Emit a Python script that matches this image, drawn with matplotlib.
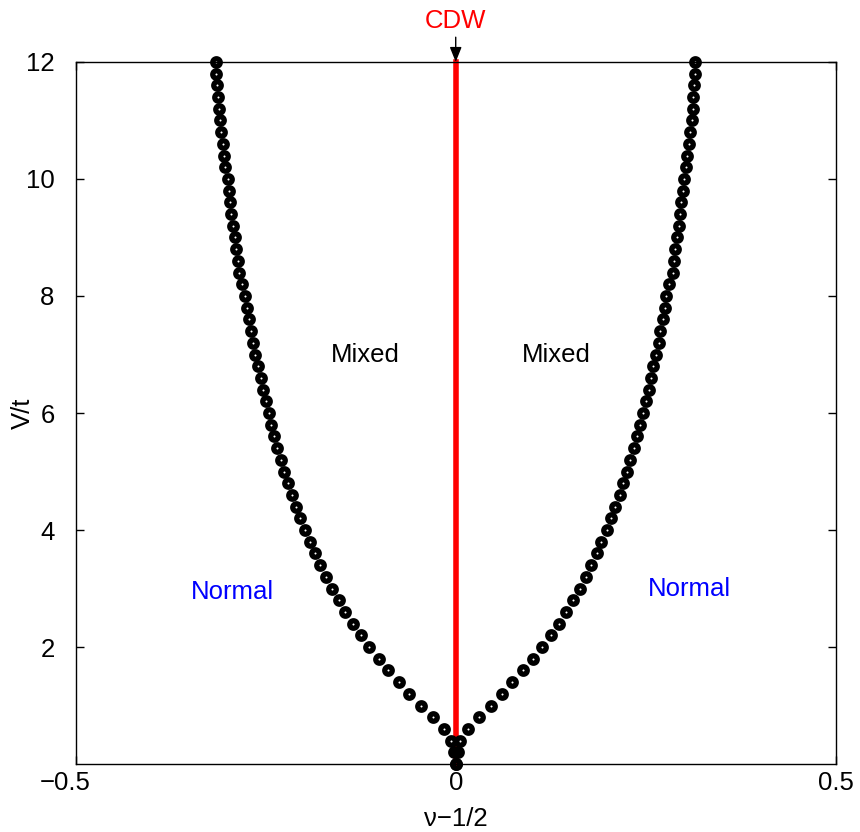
import matplotlib
matplotlib.use('Agg')
import matplotlib.pyplot as plt
import matplotlib.transforms as mtransforms
import numpy as np

plt.rcParams['font.family'] = ['Liberation Sans', 'DejaVu Sans']

# V/t values of the boundary points (top to bottom)
v_vals = [12.0, 11.8, 11.6, 11.4, 11.2, 11.0, 10.8, 10.6, 10.4, 10.2,
          10.0, 9.8, 9.6, 9.4, 9.2, 9.0, 8.8, 8.6, 8.4, 8.2,
          8.0, 7.8, 7.6, 7.4, 7.2, 7.0, 6.8, 6.6, 6.4, 6.2,
          6.0, 5.8, 5.6, 5.4, 5.2, 5.0, 4.8, 4.6, 4.4, 4.2,
          4.0, 3.8, 3.6, 3.4, 3.2, 3.0, 2.8, 2.6, 2.4, 2.2,
          2.0, 1.8, 1.6, 1.4, 1.2, 1.0, 0.8, 0.6, 0.4, 0.2, 0.0]
# |nu - 1/2| of the phase boundary at each V/t
dnu = [0.3153, 0.3149, 0.3136, 0.3127, 0.3114, 0.3106, 0.3087, 0.3066, 0.3048, 0.3031,
       0.3001, 0.2987, 0.2969, 0.2956, 0.2935, 0.2909, 0.2886, 0.2869, 0.2851, 0.2811,
       0.2768, 0.2746, 0.2725, 0.2693, 0.2667, 0.2637, 0.2601, 0.2567, 0.2536, 0.2496,
       0.2462, 0.2426, 0.2387, 0.2344, 0.2295, 0.2255, 0.2202, 0.2154, 0.2101, 0.2045,
       0.1983, 0.1913, 0.1857, 0.1782, 0.1707, 0.1628, 0.1541, 0.1453, 0.1352, 0.1247,
       0.1134, 0.1015, 0.0884, 0.0743, 0.0608, 0.0458, 0.0305, 0.0160, 0.0060, 0.0025, 0.0]

v_vals = np.array(v_vals)
dnu = np.array(dnu)

fig = plt.figure(figsize=(8.6, 8.32), dpi=100)
ax = fig.add_axes([0.0878, 0.0817, 0.8842, 0.8438])

# CDW line at half filling
ax.plot([0, 0], [0, 12], color='red', lw=4, zorder=2, clip_on=False)

for sign in (-1, 1):
    ax.plot(sign * dnu, v_vals, 'o', ls='none', ms=5.4, mew=3.8,
            mec='black', mfc='none', zorder=3, clip_on=False)

ax.text(-0.119, 7.0, 'Mixed', fontsize=18.5, ha='center', va='center')
ax.text(0.132, 7.0, 'Mixed', fontsize=18.5, ha='center', va='center')
ax.text(-0.294, 2.94, 'Normal', fontsize=18.5, ha='center', va='center', color='blue')
ax.text(0.308, 2.99, 'Normal', fontsize=18.5, ha='center', va='center', color='blue')

ax.annotate('CDW', xy=(0, 12), xytext=(0, 12.7), fontsize=18.5, color='red',
            ha='center', va='center', annotation_clip=False,
            arrowprops=dict(arrowstyle='-|>,head_length=0.5,head_width=0.2',
                            color='black', lw=1.0,
                            shrinkA=1, shrinkB=0, mutation_scale=18))

ax.set_xlim(-0.5, 0.5)
ax.set_ylim(0, 12)
ax.set_xticks([-0.5, 0, 0.5])
ax.set_xticklabels(['\u22120.5', '0', '0.5'])
ax.set_yticks([2, 4, 6, 8, 10, 12])
ax.tick_params(direction='in', length=6, width=1, top=True, right=True,
               labelsize=18.5)
ax.tick_params(axis='x', pad=5)
ax.tick_params(axis='y', pad=15)
for s in ax.spines.values():
    s.set_linewidth(1.0)

# MATLAB-like placement of the negative label
shift = mtransforms.ScaledTranslation(-10 / 100, 0, fig.dpi_scale_trans)
lab0 = ax.get_xticklabels()[0]
lab0.set_transform(lab0.get_transform() + shift)

ax.set_xlabel('\u03bd\u22121/2', fontsize=18.5, labelpad=9)
ax.set_ylabel('V/t', fontsize=18.5)
ax.yaxis.set_label_coords(-0.053, 0.5)

fig.savefig('out.png', dpi=100)
